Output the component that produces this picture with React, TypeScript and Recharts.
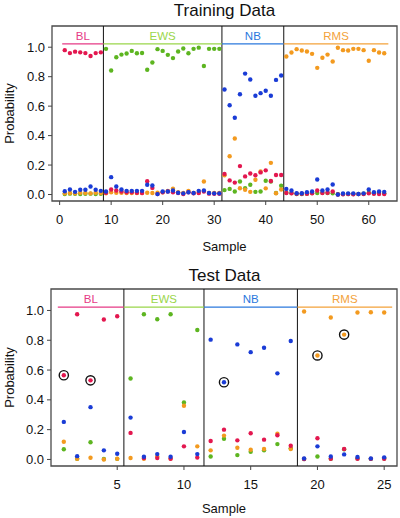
import React from 'react';
import { ScatterChart, Scatter, XAxis, YAxis, ReferenceArea, ReferenceLine, ReferenceDot, Label } from 'recharts';

const classNames = ['BL', 'EWS', 'NB', 'RMS'];
const dotColors = ['#E3174F', '#5DB520', '#1A3CD6', '#F39A1F'];
const headColors = ['#E63A86', '#9AD64A', '#2B78DD', '#F3A23A'];

// Training data: probability per sample (samples 1..63)
const trainBL = [
  0.98, 0.96, 0.97, 0.965, 0.96, 0.94, 0.96, 0.965,
  0.012, 0.034, 0.027, 0.02, 0.015, 0.015, 0.012, 0.01, 0.09, 0.045, 0.003, 0.015, 0.02, 0.015, 0.01, 0.004, 0.015, 0.008, 0.01, 0.02, 0.006, 0.005, 0.005,
  0.14, 0.096, 0.081, 0.193, 0.123, 0.143, 0.131, 0.15, 0.164, 0.092, 0.132, 0.132,
  0.01, 0.008, 0.005, 0.005, 0.005, 0.008, 0.027, 0.01, 0.012, 0.02, 0.0, 0.002, 0.003, 0.002, 0.003, 0.003, 0.008, 0.005, 0.004, 0.004,
];
const trainEWS = [
  0.004, 0.006, 0.005, 0.004, 0.005, 0.006, 0.004, 0.005,
  0.989, 0.842, 0.932, 0.95, 0.957, 0.975, 0.959, 0.961, 0.847, 0.896, 0.987, 0.975, 0.948, 0.926, 0.971, 0.991, 0.959, 0.989, 0.997, 0.872, 0.989, 0.989, 0.989,
  0.03, 0.038, 0.02, 0.088, 0.043, 0.066, 0.018, 0.02, 0.093, 0.088, 0.01, 0.06,
  0.012, 0.01, 0.004, 0.004, 0.006, 0.01, 0.01, 0.012, 0.01, 0.008, 0.002, 0.003, 0.004, 0.003, 0.004, 0.005, 0.012, 0.008, 0.01, 0.008,
];
const trainNB = [
  0.022, 0.034, 0.018, 0.032, 0.032, 0.054, 0.032, 0.025,
  0.02, 0.118, 0.054, 0.034, 0.025, 0.025, 0.025, 0.025, 0.066, 0.061, 0.003, 0.02, 0.02, 0.027, 0.012, 0.008, 0.015, 0.01, 0.025, 0.027, 0.01, 0.008, 0.008,
  0.713, 0.606, 0.521, 0.681, 0.821, 0.781, 0.67, 0.688, 0.704, 0.67, 0.778, 0.808,
  0.038, 0.027, 0.009, 0.009, 0.016, 0.02, 0.102, 0.027, 0.034, 0.068, 0.0, 0.007, 0.008, 0.008, 0.004, 0.008, 0.034, 0.016, 0.02, 0.018,
];
const trainRMS = [
  0.008, 0.01, 0.008, 0.012, 0.01, 0.008, 0.012, 0.01,
  0.008, 0.015, 0.012, 0.012, 0.01, 0.01, 0.01, 0.01, 0.012, 0.01, 0.012, 0.015, 0.025, 0.04, 0.015, 0.01, 0.025, 0.01, 0.012, 0.088, 0.01, 0.01, 0.01,
  0.13, 0.26, 0.38, 0.043, 0.032, 0.018, 0.1, 0.156, 0.042, 0.215, 0.009, 0.034,
  0.937, 0.964, 0.987, 0.978, 0.971, 0.955, 0.86, 0.928, 0.95, 0.903, 0.996, 0.98, 0.978, 0.989, 0.989, 0.98, 0.908, 0.98, 0.964, 0.959,
];

// Test data (samples 1..25)
const testBL = [0.565, 0.975, 0.531, 0.939, 0.961, 0.178, 0.01, 0.009, 0.005, 0.088, 0.013, 0.124, 0.2, 0.128, 0.176, 0.133, 0.162, 0.092, 0.003, 0.142, 0.005, 0.07, 0.005, 0.004, 0.005];
const testEWS = [0.068, 0.005, 0.115, 0.003, 0.004, 0.543, 0.975, 0.941, 0.975, 0.383, 0.869, 0.02, 0.139, 0.029, 0.051, 0.061, 0.103, 0.075, 0.003, 0.02, 0.005, 0.068, 0.007, 0.004, 0.006];
const testNB = [0.252, 0.022, 0.351, 0.061, 0.038, 0.281, 0.018, 0.036, 0.018, 0.184, 0.036, 0.804, 0.518, 0.772, 0.72, 0.75, 0.578, 0.795, 0.007, 0.088, 0.02, 0.034, 0.016, 0.007, 0.014];
const testRMS = [0.119, 0.004, 0.011, 0.0, 0.005, 0.01, 0.004, 0.02, 0.006, 0.36, 0.088, 0.061, 0.16, 0.078, 0.065, 0.07, 0.173, 0.07, 0.993, 0.698, 0.953, 0.838, 0.986, 0.988, 0.986];

// circled test samples: sample number and class index
const testCircledSamples = [1, 3, 13, 20, 22];
const testCircledClass = [0, 0, 2, 3, 3];

const trainBounds = [0.5, 8.5, 31.5, 43.5, 63.8];
const testBounds = [0.55, 5.5, 11.5, 18.5, 25.6];
const trainXTicks = [0, 10, 20, 30, 40, 50, 60];
const testXTicks = [5, 10, 15, 20, 25];
const probTicks = [0, 0.2, 0.4, 0.6, 0.8, 1.0];

const FONT = '"Liberation Sans", Arial, Helvetica, sans-serif';
const Y_DOMAIN: [number, number] = [-0.044, 1.144];
const HEAD_Y = 1.022;
const HEAD_LABEL_Y = 1.075;

type PanelProps = {
  series: number[][];
  bounds: number[];
  xTicks: number[];
  xDomain: [number, number];
  circledSamples?: number[];
  circledClass?: number[];
  marginTop: number;
  xAxisHeight: number;
  yAxisWidth: number;
  sampleOffset: number;
};

const makeDot = (color: string) => (props: any) => {
  if (props.cx == null || props.cy == null) return <g />;
  return <circle cx={props.cx} cy={props.cy} r={2.2} fill={color} />;
};

const ringShape = (props: any) => {
  if (props.cx == null || props.cy == null) return <g />;
  return <circle cx={props.cx} cy={props.cy} r={4.6} fill="none" stroke="#111" strokeWidth={1.4} />;
};

function Panel(p: PanelProps) {
  const drawOrder = [1, 3, 0, 2];
  const ringData = (p.circledSamples || []).map((s, i) => ({ x: s, y: p.series[p.circledClass![i]][s - 1] }));
  const tickStyle = { fontSize: 13, fill: '#111', fontFamily: FONT };
  return (
    <ScatterChart
      width={400}
      height={259}
      margin={{ top: p.marginTop, right: 3, bottom: 0, left: 0 }}
      style={{ fontFamily: FONT }}
    >
      <XAxis
        type="number"
        dataKey="x"
        domain={p.xDomain}
        allowDataOverflow
        ticks={p.xTicks}
        interval={0}
        axisLine={false}
        tickLine={{ stroke: '#444' }}
        tickSize={4}
        tickMargin={10}
        height={p.xAxisHeight}
        tick={tickStyle}
      >
        <Label value="Sample" position="insideBottom" offset={p.sampleOffset} style={{ fontSize: 13, fill: '#111', fontFamily: FONT }} />
      </XAxis>
      <YAxis
        type="number"
        dataKey="y"
        domain={Y_DOMAIN}
        allowDataOverflow
        ticks={probTicks}
        interval={0}
        axisLine={false}
        tickLine={{ stroke: '#444' }}
        tickSize={4}
        tickMargin={3}
        width={p.yAxisWidth}
        tick={tickStyle}
        tickFormatter={(v: number) => v.toFixed(1)}
      >
        <Label value="Probability" angle={-90} position="insideLeft" offset={9} style={{ textAnchor: 'middle', fontSize: 13, fill: '#111', fontFamily: FONT }} />
      </YAxis>
      <ReferenceArea
        x1={p.xDomain[0]}
        x2={p.xDomain[1]}
        y1={Y_DOMAIN[0]}
        y2={Y_DOMAIN[1]}
        fill="none"
        stroke="#4a4a4a"
        strokeWidth={1.3}
        ifOverflow="visible"
      />
      {p.bounds.slice(1, -1).map((b) => (
        <ReferenceLine key={'sep' + b} x={b} stroke="#111" strokeWidth={1} />
      ))}
      {classNames.map((name, i) => (
        <ReferenceLine
          key={'head' + name}
          segment={[{ x: p.bounds[i], y: HEAD_Y }, { x: p.bounds[i + 1], y: HEAD_Y }]}
          stroke={headColors[i]}
          strokeWidth={1.2}
          ifOverflow="visible"
        />
      ))}
      {classNames.map((name, i) => (
        <ReferenceDot
          key={'lab' + name}
          x={(p.bounds[i] + p.bounds[i + 1]) / 2}
          y={HEAD_LABEL_Y}
          r={0}
          fill="none"
          stroke="none"
          ifOverflow="visible"
          label={{ value: name, position: 'center', fill: headColors[i], fontSize: 11.5, fontFamily: FONT }}
        />
      ))}
      {drawOrder.map((ci) => (
        <Scatter
          key={classNames[ci]}
          name={classNames[ci]}
          data={p.series[ci].map((v, i) => ({ x: i + 1, y: v }))}
          fill={dotColors[ci]}
          shape={makeDot(dotColors[ci])}
          isAnimationActive={false}
        />
      ))}
      {ringData.length > 0 && (
        <Scatter name="circled" data={ringData} shape={ringShape} isAnimationActive={false} />
      )}
    </ScatterChart>
  );
}

export default function App() {
  const titleStyle: React.CSSProperties = {
    position: 'absolute',
    left: 52,
    width: 345,
    textAlign: 'center',
    fontFamily: FONT,
    fontSize: 17,
    lineHeight: '20px',
    color: '#111',
  };
  return (
    <div style={{ position: 'absolute', left: 0, top: 0, width: 400, height: 518, background: '#fff', overflow: 'hidden' }}>
      <div style={{ ...titleStyle, top: 1 }}>Training Data</div>
      <div style={{ ...titleStyle, top: 266 }}>Test Data</div>
      <div style={{ position: 'absolute', left: 0, top: 0 }}>
        <Panel
          series={[trainBL, trainEWS, trainNB, trainRMS]}
          bounds={trainBounds}
          xTicks={trainXTicks}
          xDomain={[-1.48, 65.48]}
          marginTop={26}
          xAxisHeight={58}
          yAxisWidth={52}
          sampleOffset={8}
        />
      </div>
      <div style={{ position: 'absolute', left: 0, top: 259 }}>
        <Panel
          series={[testBL, testEWS, testNB, testRMS]}
          bounds={testBounds}
          xTicks={testXTicks}
          xDomain={[0.04, 25.96]}
          circledSamples={testCircledSamples}
          circledClass={testCircledClass}
          marginTop={30}
          xAxisHeight={52}
          yAxisWidth={51}
          sampleOffset={5}
        />
      </div>
    </div>
  );
}
